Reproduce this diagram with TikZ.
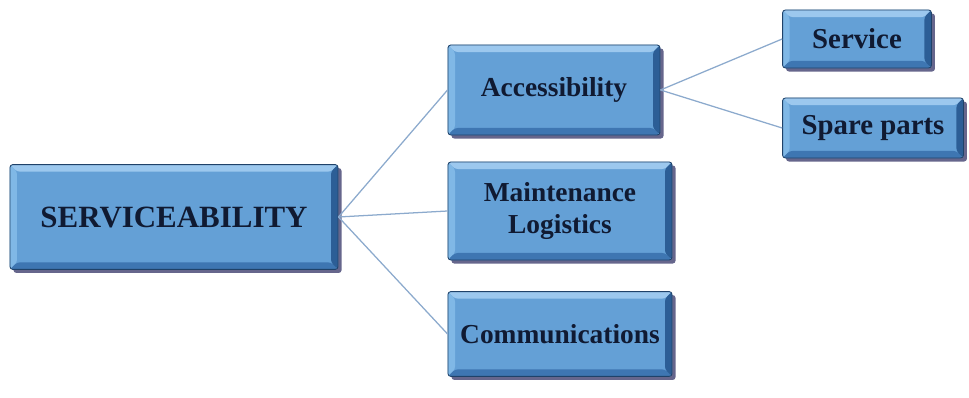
\documentclass[tikz,border=0pt]{standalone}
\usepackage{fontspec}
\setmainfont{Liberation Serif}
\usetikzlibrary{calc,shadows}

\definecolor{boxface}{RGB}{100,160,214}
\definecolor{bevtop}{RGB}{156,200,238}
\definecolor{bevleft}{RGB}{128,184,230}
\definecolor{bevbot}{RGB}{62,118,178}
\definecolor{bevright}{RGB}{44,94,150}
\definecolor{boxtext}{RGB}{16,26,50}
\definecolor{linkblue}{RGB}{140,170,205}

\tikzset{
  bevelbox/.style={rectangle, rounded corners=2pt, fill=boxface,
    draw=bevright!70!black, line width=0.6pt, text=boxtext,
    align=center, inner sep=0pt,
    drop shadow={shadow xshift=2.5pt, shadow yshift=-2.5pt,
      fill=black!75!blue, opacity=0.6},
    path picture={
      \coordinate (bnw) at (path picture bounding box.north west);
      \coordinate (bne) at (path picture bounding box.north east);
      \coordinate (bse) at (path picture bounding box.south east);
      \coordinate (bsw) at (path picture bounding box.south west);
      \fill[bevtop] (bnw) -- (bne) -- ($(bne)+(-5pt,-5pt)$) -- ($(bnw)+(5pt,-5pt)$) -- cycle;
      \fill[bevleft] (bnw) -- (bsw) -- ($(bsw)+(5pt,5pt)$) -- ($(bnw)+(5pt,-5pt)$) -- cycle;
      \fill[bevbot] (bsw) -- (bse) -- ($(bse)+(-5pt,5pt)$) -- ($(bsw)+(5pt,5pt)$) -- cycle;
      \fill[bevright] (bne) -- (bse) -- ($(bse)+(-5pt,5pt)$) -- ($(bne)+(-5pt,-5pt)$) -- cycle;
    }},
  rootbox/.style={bevelbox, font=\bfseries\fontsize{22}{26}\selectfont},
  midbox/.style={bevelbox, font=\bfseries\fontsize{19.5}{23}\selectfont},
  leafbox/.style={bevelbox, font=\bfseries\fontsize{20.5}{24}\selectfont},
  link/.style={draw=linkblue, line width=0.9pt}
}

\begin{document}
\begin{tikzpicture}[x=0.025cm, y=-0.025cm]
  \useasboundingbox (0,0) rectangle (969,398);
  % level one
  \node[rootbox, minimum width=8.2cm, minimum height=2.62cm] (serv) at (174,217) {SERVICEABILITY};
  % level two
  \node[midbox, minimum width=5.3cm, minimum height=2.25cm] (acc) at (554,90) {Accessibility};
  \node[midbox, minimum width=5.6cm, minimum height=2.45cm] (maint) at (560,211) {Maintenance\\Logistics};
  \node[midbox, minimum width=5.6cm, minimum height=2.12cm] (comm) at (560,334) {Communications};
  % level three
  \node[leafbox, minimum width=3.72cm, minimum height=1.45cm] (svc) at (857,39) {Service};
  \node[leafbox, minimum width=4.52cm, minimum height=1.5cm] (spare) at (873,128) {Spare parts};
  \begin{scope}[link]
    \draw (serv.east) to (acc.west);
    \draw (serv.east) to (maint.west);
    \draw (serv.east) to (comm.west);
    \draw (acc.east) to (svc.west);
    \draw (acc.east) to (spare.west);
  \end{scope}
\end{tikzpicture}
\end{document}
